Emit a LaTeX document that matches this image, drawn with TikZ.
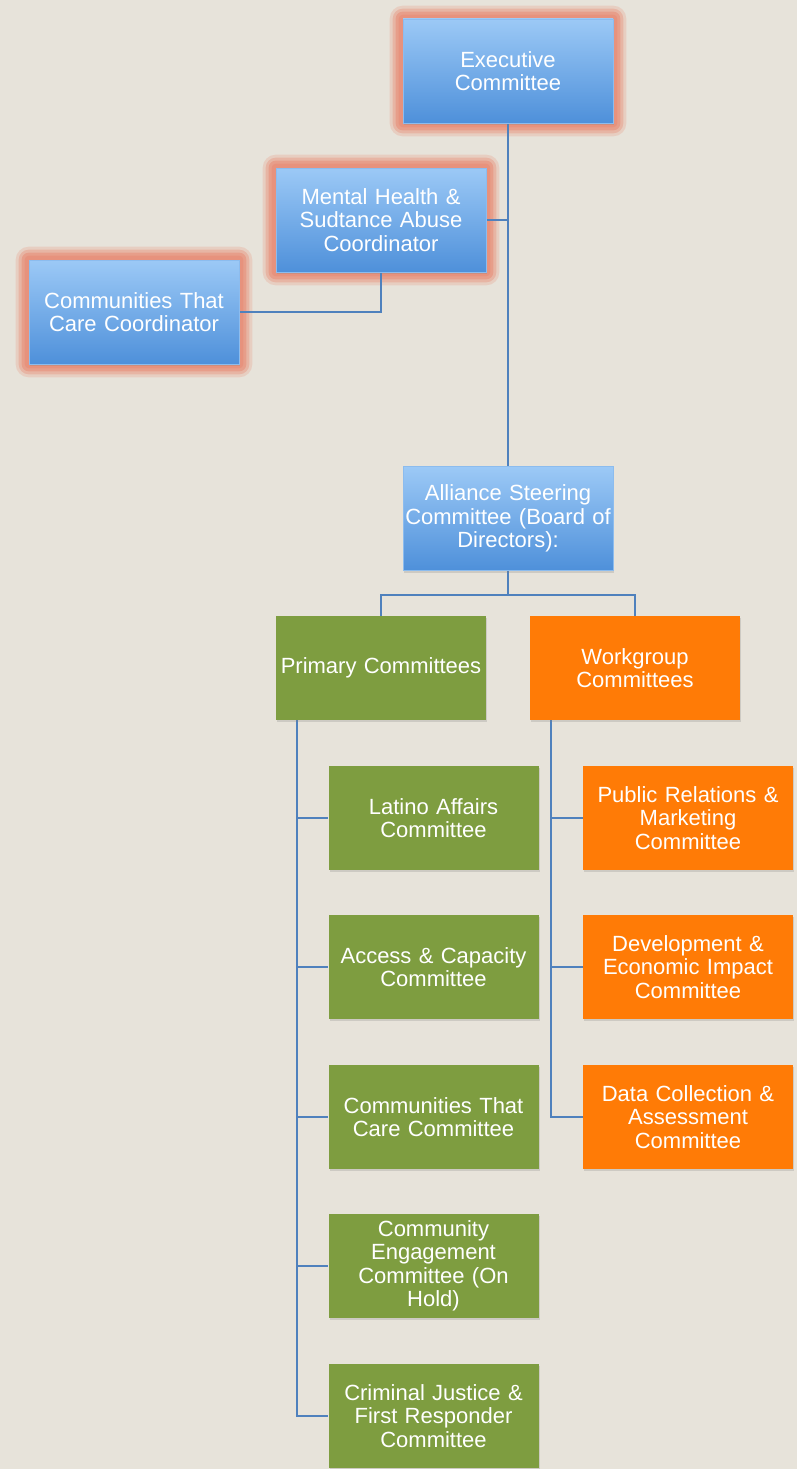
\documentclass[tikz,border=0pt]{standalone}
\usepackage{fontspec}
\setmainfont{Liberation Sans}
\usetikzlibrary{backgrounds,shadows}
\definecolor{bgc}{HTML}{E7E3DA}
\definecolor{blueT}{HTML}{9CC9F6}
\definecolor{blueB}{HTML}{4E90DA}
\definecolor{blueL}{HTML}{8CBCEE}
\definecolor{greenC}{HTML}{7E9D40}
\definecolor{orangeC}{HTML}{FF7B06}
\definecolor{glowc}{HTML}{E8907A}
\definecolor{linec}{HTML}{4F81BD}
\tikzset{
  box/.style={minimum width=210pt, minimum height=104pt, inner sep=0pt, align=center,
    text=white, text width=208pt, font=\fontsize{22}{23.5}\selectfont,
    drop shadow={opacity=0.25, shadow xshift=1pt, shadow yshift=-2pt}},
  bluebox/.style={box, top color=blueT, bottom color=blueB, draw=blueL, line width=0.6pt},
  greenbox/.style={box, fill=greenC},
  orangebox/.style={box, fill=orangeC},
  conn/.style={draw=linec, line width=1.8pt},
}
\newcommand{\myglow}[1]{%
  \foreach \d/\o in {13/0.25, 10/0.4, 7/0.6, 4/0.8}{%
    \fill[glowc, opacity=\o, rounded corners=\d pt]
      ([shift={(-\d,-\d)}]#1.north west) rectangle ([shift={(\d,\d)}]#1.south east);}}
\begin{document}
\begin{tikzpicture}[x=1pt,y=-1pt]
\useasboundingbox (0,0) rectangle (797,1469);
\node[bluebox] (exec) at (508,71) {Executive\\Committee};
\node[bluebox] (mh) at (381,220) {Mental Health \&\\Sudtance Abuse\\Coordinator};
\node[bluebox] (ctc) at (134,312) {Communities That\\Care Coordinator};
\node[bluebox] (alliance) at (508,518.5) {Alliance Steering\\Committee (Board of\\Directors):};
\node[greenbox] (primary) at (381,668) {Primary Committees};
\node[orangebox] (work) at (635,668) {Workgroup\\Committees};
\node[greenbox] (g1) at (433.5,818) {Latino Affairs\\Committee};
\node[greenbox] (g2) at (433.5,967) {Access \& Capacity\\Committee};
\node[greenbox] (g3) at (433.5,1117) {Communities That\\Care Committee};
\node[greenbox] (g4) at (433.5,1266) {Community\\Engagement\\Committee (On\\Hold)};
\node[greenbox] (g5) at (433.5,1416) {Criminal Justice \&\\First Responder\\Committee};
\node[orangebox] (o1) at (688,818) {Public Relations \&\\Marketing\\Committee};
\node[orangebox] (o2) at (688,967) {Development \&\\Economic Impact\\Committee};
\node[orangebox] (o3) at (688,1117) {Data Collection \&\\Assessment\\Committee};
\begin{scope}[on background layer]
  \fill[bgc] (0,0) rectangle (797,1469);
  \myglow{exec}
  \myglow{mh}
  \myglow{ctc}
  \draw[conn] (exec.south) -- (alliance.north);
  \draw[conn] (mh.east) -- (mh.east -| exec.south);
  \draw[conn] (mh.south) |- (ctc.east);
  \draw[conn] (alliance.south) -- ++(0,24) -| (primary.north);
  \draw[conn] (alliance.south) -- ++(0,24) -| (work.north);
  \foreach \g in {g1,g2,g3,g4,g5}{\draw[conn] ([xshift=21pt]primary.south west) |- (\g.west);}
  \foreach \g in {o1,o2,o3}{\draw[conn] ([xshift=21pt]work.south west) |- (\g.west);}
\end{scope}
\end{tikzpicture}
\end{document}
